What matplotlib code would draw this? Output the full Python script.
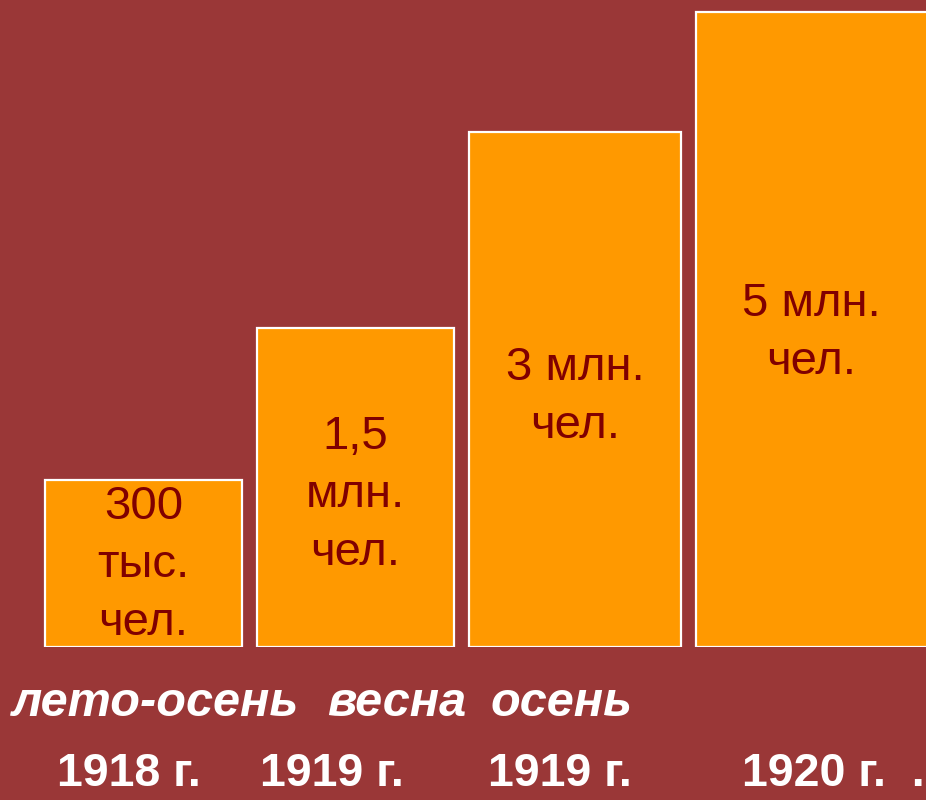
import matplotlib
matplotlib.use("Agg")
import matplotlib.pyplot as plt

# Data (bar heights as drawn on the slide, not to scale with the numbers)
periods = ["лето-осень", "весна", "осень", ""]
years = ["1918 г.", "1919 г.", "1919 г.", "1920 г.  ."]
bar_labels = ["300\nтыс.\nчел.", "1,5\nмлн.\nчел.", "3 млн.\nчел.", "5 млн.\nчел."]
bar_heights = [167, 319, 515, 635]

# Layout (pixel-like units of the slide)
bar_left = [45, 257, 469, 696]
bar_width = [197, 197, 212, 240]
label_y = [82, 152, 250, 314]
period_x = [12, 327, 490, 0]
year_x = [57, 260, 488, 742]

BG = "#9a3737"
BAR = "#ff9900"
TXT = "#800000"

plt.rcParams["font.family"] = ["Liberation Sans", "DejaVu Sans"]

fig = plt.figure(figsize=(9.26, 8), dpi=100, facecolor=BG)
ax = fig.add_axes([0, 153 / 800, 1, 647 / 800])
ax.set_facecolor(BG)
ax.set_xlim(0, 926)
ax.set_ylim(0, 647)
ax.axis("off")

ax.bar(bar_left, bar_heights, width=bar_width, align="edge",
       color=BAR, edgecolor="white", linewidth=1.6, clip_on=True)

for i, lab in enumerate(bar_labels):
    cx = bar_left[i] + bar_width[i] / 2
    if i == 3:
        cx = bar_left[i] + 230 / 2
    ax.text(cx, label_y[i], lab, ha="center", va="center", color=TXT,
            fontsize=34, linespacing=1.42)

# bottom captions
for x, p in zip(period_x, periods):
    if p:
        fig.text(x / 926, 1 - 703 / 800, p, ha="left", va="center",
                 color="white", fontsize=35, fontweight="bold", style="italic")

for x, y in zip(year_x, years):
    fig.text(x / 926, 1 - 774 / 800, y, ha="left", va="center",
             color="white", fontsize=33.5, fontweight="bold")

fig.savefig("out.png", dpi=100, facecolor=BG)
